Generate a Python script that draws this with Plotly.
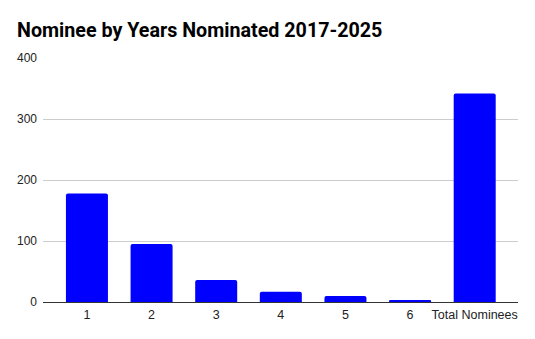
import plotly.graph_objects as go

categories = ["1", "2", "3", "4", "5", "6", "Total Nominees"]
values = [178, 95, 36, 17, 10, 3, 342]

fig = go.Figure(go.Bar(
    x=categories, y=values,
    marker=dict(color="#0000ff", line=dict(width=0)),
    width=0.65,
))

fig.update_layout(
    width=535, height=339,
    margin=dict(l=43, r=17, t=58, b=37),
    paper_bgcolor="white", plot_bgcolor="white",
    barcornerradius=2,
    title=dict(text="<b>Nominee by Years Nominated 2017-2025</b>",
               font=dict(family="Roboto", size=19.7, color="#000"),
               x=17/535, xanchor="left", xref="container",
               y=1 - 30/339, yanchor="middle", yref="container"),
    showlegend=False,
    font=dict(family="Liberation Sans, Arial", size=12, color="#222"),
)
fig.update_xaxes(range=[-0.68, 6.67], showgrid=False, ticks="", showline=False,
                 ticklabelstandoff=3,
                 tickfont=dict(size=12.5, color="#222"))
fig.update_yaxes(range=[0, 400], tickvals=[0, 100, 200, 300, 400],
                 gridcolor="#cccccc", gridwidth=1, zeroline=True,
                 zerolinecolor="#333333", zerolinewidth=1, ticks="",
                 ticklabelstandoff=5, tickfont=dict(size=12, color="#222"))

fig.write_html("out.html")
